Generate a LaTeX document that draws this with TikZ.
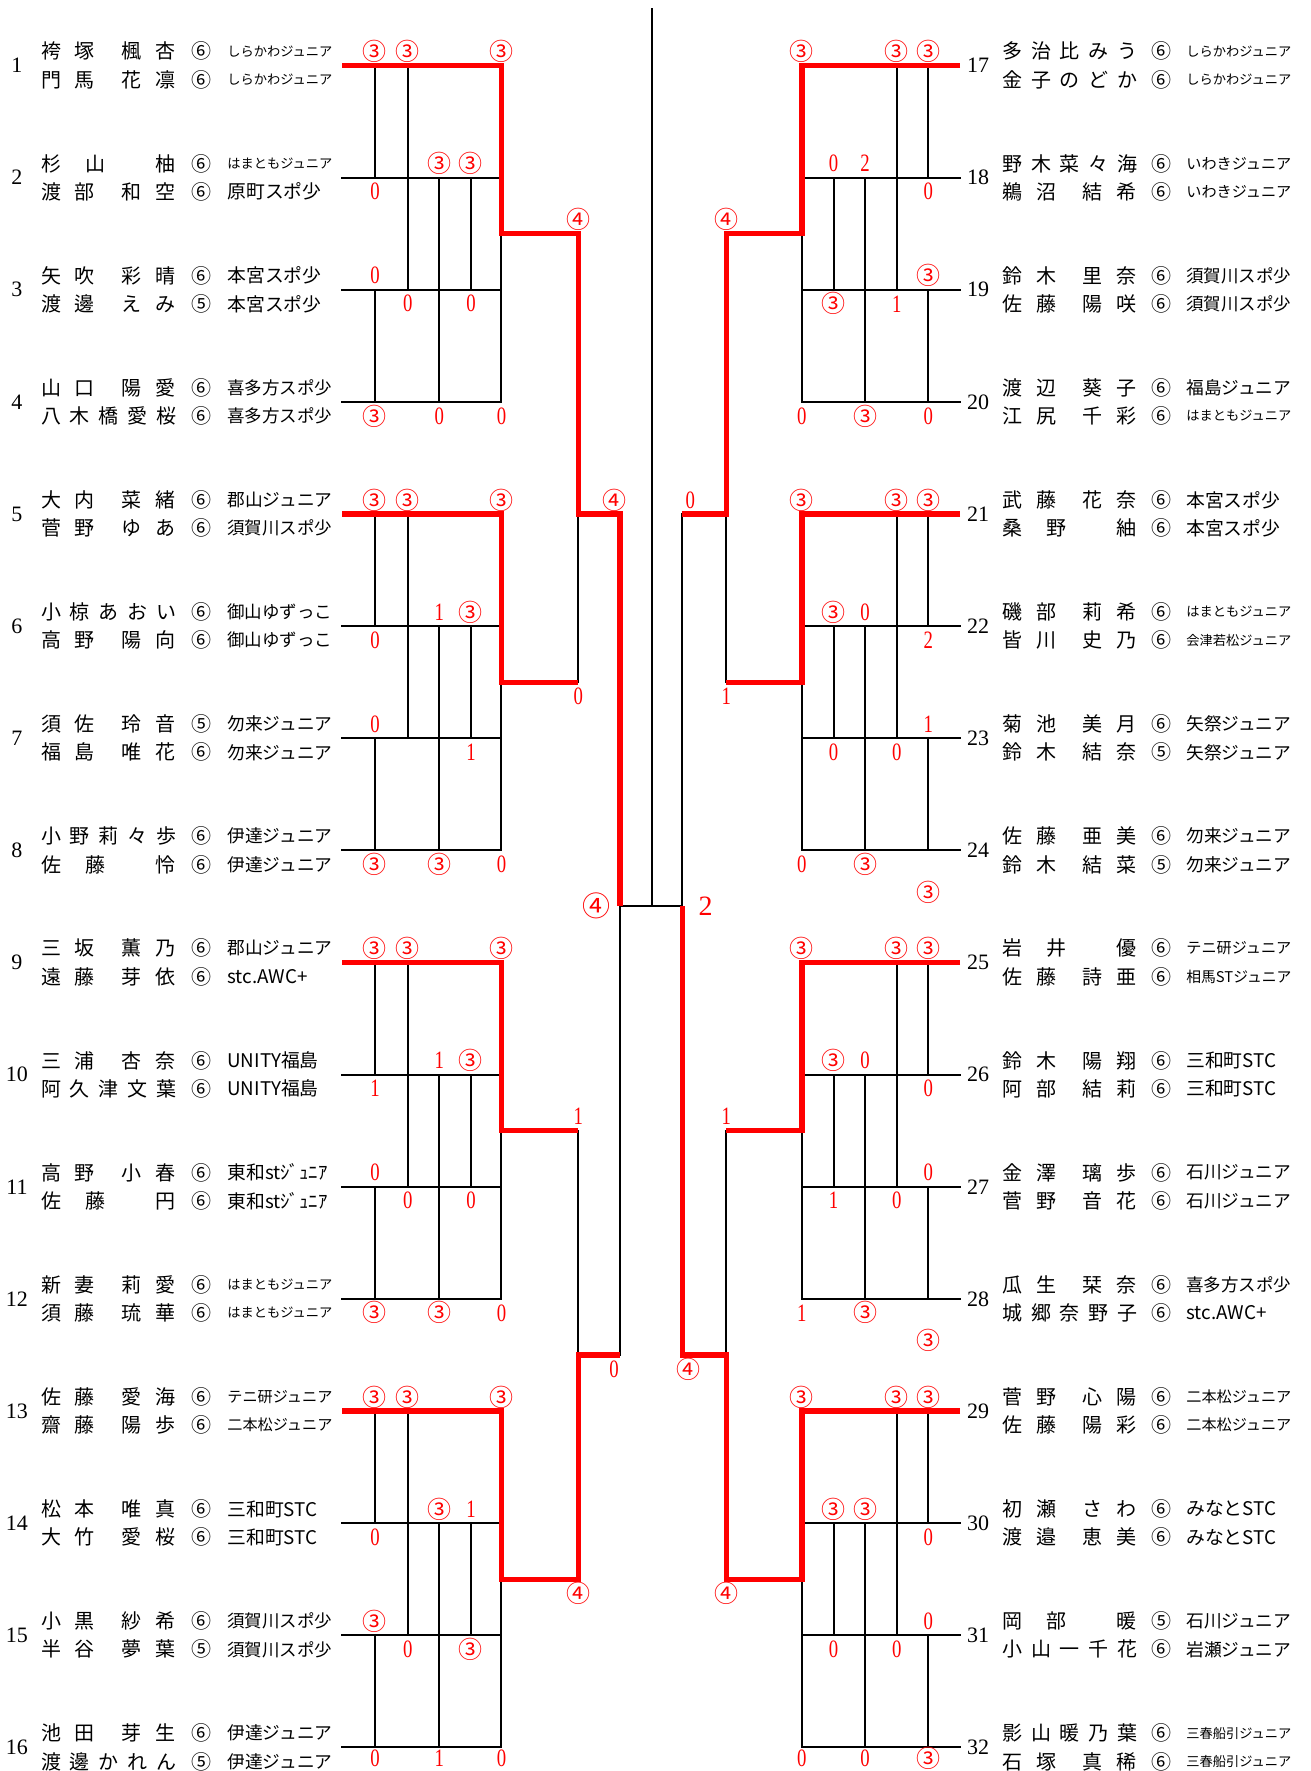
\documentclass[tikz,border=0pt]{standalone}
\usepackage{fontspec}
\setmainfont{Liberation Serif}
\newfontfamily\jp{Noto Sans CJK JP}
\newfontfamily\scf{Liberation Serif}[FakeStretch=0.75]
\usepackage{graphicx}
\usetikzlibrary{calc}

\newlength\shu
\setlength\shu{0.5647pt}
\newcommand\chr[2]{\rlap{\hspace*{#1\shu}\makebox[0pt]{#2}}}
\newcommand\nmE[5]{\chr{0}{#1}\chr{25.5}{#2}\chr{51}{#3}\chr{76.5}{#4}\chr{102}{#5}}
\newcommand\nmD[4]{\chr{0}{#1}\chr{30}{#2}\chr{71}{#3}\chr{101}{#4}}
\newcommand\nmC[3]{\chr{0}{#1}\chr{39}{#2}\chr{101}{#3}}
\newcommand\club[1]{\sbox0{\fontsize{9.4}{11}\selectfont#1}\ifdim\wd0>52.5pt\resizebox{52.5pt}{!}{\usebox0}\else\usebox0\fi}
\newcommand\wthree{{\jp\fontsize{12}{14}\selectfont ③}}
\newcommand\wfour{{\jp\fontsize{12}{14}\selectfont ④}}

\begin{document}
\begin{tikzpicture}[x=0.5647pt,y=-0.5647pt,
  bline/.style={line width=1pt, line cap=rect},
  rline/.style={line width=2.6pt, red},
  entno/.style={inner sep=0pt, font=\fontsize{11}{13}\selectfont},
  pname/.style={anchor=west, inner sep=0pt, font=\jp\fontsize{10}{12}\selectfont},
  grade/.style={inner sep=0pt, font=\jp\fontsize{10}{12}\selectfont},
  clubtxt/.style={anchor=west, inner sep=0pt, font=\jp},
  score/.style={inner sep=0pt, text=red, font=\scf\fontsize{12.5}{14}\selectfont},
  final/.style={inner sep=0pt, text=red, font=\fontsize{14}{16}\selectfont}]
\useasboundingbox (0,0) rectangle (1160,1568);

% columns of the league blocks and the bracket
\coordinate (lc1) at (332,0);
\coordinate (lc2) at (361,0);
\coordinate (lc3) at (389,0);
\coordinate (lc4) at (417,0);
\coordinate (lc5) at (444,0);
\coordinate (lq) at (512,0);
\coordinate (ls) at (549,0);
\coordinate (rs) at (604,0);
\coordinate (rq) at (643,0);
\coordinate (rc5) at (710,0);
\coordinate (rc4) at (738,0);
\coordinate (rc3) at (766,0);
\coordinate (rc2) at (794,0);
\coordinate (rc1) at (822,0);
\coordinate (top) at (577,8);
\coordinate (fin) at (577,802);

% left entries
\foreach \n/\na/\ga/\ca/\nb/\gb/\cb in {
 1/\nmD{袴}{塚}{楓}{杏}/⑥/しらかわジュニア/\nmD{門}{馬}{花}{凛}/⑥/しらかわジュニア,
 2/\nmC{杉}{山}{柚}/⑥/はまともジュニア/\nmD{渡}{部}{和}{空}/⑥/原町スポ少,
 3/\nmD{矢}{吹}{彩}{晴}/⑥/本宮スポ少/\nmD{渡}{邊}{え}{み}/⑤/本宮スポ少,
 4/\nmD{山}{口}{陽}{愛}/⑥/喜多方スポ少/\nmE{八}{木}{橋}{愛}{桜}/⑥/喜多方スポ少,
 5/\nmD{大}{内}{菜}{緒}/⑥/郡山ジュニア/\nmD{菅}{野}{ゆ}{あ}/⑥/須賀川スポ少,
 6/\nmE{小}{椋}{あ}{お}{い}/⑥/御山ゆずっこ/\nmD{高}{野}{陽}{向}/⑥/御山ゆずっこ,
 7/\nmD{須}{佐}{玲}{音}/⑤/勿来ジュニア/\nmD{福}{島}{唯}{花}/⑥/勿来ジュニア,
 8/\nmE{小}{野}{莉}{々}{歩}/⑥/伊達ジュニア/\nmC{佐}{藤}{怜}/⑥/伊達ジュニア,
 9/\nmD{三}{坂}{薫}{乃}/⑥/郡山ジュニア/\nmD{遠}{藤}{芽}{依}/⑥/stc.AWC+,
 10/\nmD{三}{浦}{杏}{奈}/⑥/UNITY福島/\nmE{阿}{久}{津}{文}{葉}/⑥/UNITY福島,
 11/\nmD{高}{野}{小}{春}/⑥/東和stｼﾞｭﾆｱ/\nmC{佐}{藤}{円}/⑥/東和stｼﾞｭﾆｱ,
 12/\nmD{新}{妻}{莉}{愛}/⑥/はまともジュニア/\nmD{須}{藤}{琉}{華}/⑥/はまともジュニア,
 13/\nmD{佐}{藤}{愛}{海}/⑥/テニ研ジュニア/\nmD{齋}{藤}{陽}{歩}/⑥/二本松ジュニア,
 14/\nmD{松}{本}{唯}{真}/⑥/三和町STC/\nmD{大}{竹}{愛}{桜}/⑥/三和町STC,
 15/\nmD{小}{黒}{紗}{希}/⑥/須賀川スポ少/\nmD{半}{谷}{夢}{葉}/⑤/須賀川スポ少,
 16/\nmD{池}{田}{芽}{生}/⑥/伊達ジュニア/\nmE{渡}{邊}{か}{れ}{ん}/⑤/伊達ジュニア}{
 \pgfmathsetmacro\yy{58+(\n-1)*99.27}
 \coordinate (e\n) at (303,\yy);
 \node[entno] (no\n) at (15,\yy) {\n};
 \node[pname] (pa\n) at (44,\yy-12.5) {\na};
 \node[grade] (ga\n) at (178,\yy-12.5) {\ga};
 \node[clubtxt] (ca\n) at (201,\yy-12.5) {\club{\ca}};
 \node[pname] (pb\n) at (44,\yy+12.5) {\nb};
 \node[grade] (gb\n) at (178,\yy+12.5) {\gb};
 \node[clubtxt] (cb\n) at (201,\yy+12.5) {\club{\cb}};
}

% right entries
\foreach \n/\na/\ga/\ca/\nb/\gb/\cb in {
 17/\nmE{多}{治}{比}{み}{う}/⑥/しらかわジュニア/\nmE{金}{子}{の}{ど}{か}/⑥/しらかわジュニア,
 18/\nmE{野}{木}{菜}{々}{海}/⑥/いわきジュニア/\nmD{鵜}{沼}{結}{希}/⑥/いわきジュニア,
 19/\nmD{鈴}{木}{里}{奈}/⑥/須賀川スポ少/\nmD{佐}{藤}{陽}{咲}/⑥/須賀川スポ少,
 20/\nmD{渡}{辺}{葵}{子}/⑥/福島ジュニア/\nmD{江}{尻}{千}{彩}/⑥/はまともジュニア,
 21/\nmD{武}{藤}{花}{奈}/⑥/本宮スポ少/\nmC{桑}{野}{紬}/⑥/本宮スポ少,
 22/\nmD{磯}{部}{莉}{希}/⑥/はまともジュニア/\nmD{皆}{川}{史}{乃}/⑥/会津若松ジュニア,
 23/\nmD{菊}{池}{美}{月}/⑥/矢祭ジュニア/\nmD{鈴}{木}{結}{奈}/⑤/矢祭ジュニア,
 24/\nmD{佐}{藤}{亜}{美}/⑥/勿来ジュニア/\nmD{鈴}{木}{結}{菜}/⑤/勿来ジュニア,
 25/\nmC{岩}{井}{優}/⑥/テニ研ジュニア/\nmD{佐}{藤}{詩}{亜}/⑥/相馬STジュニア,
 26/\nmD{鈴}{木}{陽}{翔}/⑥/三和町STC/\nmD{阿}{部}{結}{莉}/⑥/三和町STC,
 27/\nmD{金}{澤}{璃}{歩}/⑥/石川ジュニア/\nmD{菅}{野}{音}{花}/⑥/石川ジュニア,
 28/\nmD{瓜}{生}{栞}{奈}/⑥/喜多方スポ少/\nmE{城}{郷}{奈}{野}{子}/⑥/stc.AWC+,
 29/\nmD{菅}{野}{心}{陽}/⑥/二本松ジュニア/\nmD{佐}{藤}{陽}{彩}/⑥/二本松ジュニア,
 30/\nmD{初}{瀬}{さ}{わ}/⑥/みなとSTC/\nmD{渡}{邉}{恵}{美}/⑥/みなとSTC,
 31/\nmC{岡}{部}{暖}/⑤/石川ジュニア/\nmE{小}{山}{一}{千}{花}/⑥/岩瀬ジュニア,
 32/\nmE{影}{山}{暖}{乃}{葉}/⑥/三春船引ジュニア/\nmD{石}{塚}{真}{稀}/⑥/三春船引ジュニア}{
 \pgfmathsetmacro\yy{58+(\n-17)*99.27}
 \coordinate (e\n) at (850,\yy);
 \node[entno] (no\n) at (866,\yy) {\n};
 \node[pname] (pa\n) at (895,\yy-12.5) {\na};
 \node[grade] (ga\n) at (1028.5,\yy-12.5) {\ga};
 \node[clubtxt] (ca\n) at (1050,\yy-12.5) {\club{\ca}};
 \node[pname] (pb\n) at (895,\yy+12.5) {\nb};
 \node[grade] (gb\n) at (1028.5,\yy+12.5) {\gb};
 \node[clubtxt] (cb\n) at (1050,\yy+12.5) {\club{\cb}};
}

% league blocks
\foreach \ea/\eb/\ec/\ed in {1/2/3/4,5/6/7/8,9/10/11/12,13/14/15/16}{
 \coordinate (gm\ea) at ($(e\ea)!.5!(e\ed)$);
 \draw[bline] (e\eb) -- (lc5 |- e\eb) (e\ec) -- (lc5 |- e\ec) (e\ed) -- (lc5 |- e\ed);
 \draw[bline] (lc1 |- e\ea) -- (lc1 |- e\eb) (lc1 |- e\ec) -- (lc1 |- e\ed)
  (lc2 |- e\ea) -- (lc2 |- e\ec) (lc3 |- e\eb) -- (lc3 |- e\ed)
  (lc4 |- e\eb) -- (lc4 |- e\ec) (lc5 |- e\ea) -- (lc5 |- e\ed);
}
\foreach \ea/\eb/\ec/\ed in {17/18/19/20,21/22/23/24,25/26/27/28,29/30/31/32}{
 \coordinate (gm\ea) at ($(e\ea)!.5!(e\ed)$);
 \draw[bline] (e\eb) -- (rc5 |- e\eb) (e\ec) -- (rc5 |- e\ec) (e\ed) -- (rc5 |- e\ed);
 \draw[bline] (rc1 |- e\ea) -- (rc1 |- e\eb) (rc1 |- e\ec) -- (rc1 |- e\ed)
  (rc2 |- e\ea) -- (rc2 |- e\ec) (rc3 |- e\eb) -- (rc3 |- e\ed)
  (rc4 |- e\eb) -- (rc4 |- e\ec) (rc5 |- e\ea) -- (rc5 |- e\ed);
}
\coordinate (smb) at ($(gm9)!.5!(gm13)$);
\coordinate (smr) at ($(gm25)!.5!(gm29)$);

% bracket
\draw[bline] (lq |- gm1) -- (lq |- gm5);
\draw[bline] (lq |- gm9) -- (lq |- gm13);
\draw[bline] (ls |- e5) -- (ls |- smb);
\draw[bline] (rq |- gm17) -- (rq |- gm21);
\draw[bline] (rq |- gm25) -- (rq |- gm29);
\draw[bline] (rs |- e21) -- (rs |- smr);
\draw[bline] (ls |- fin) -- (rs |- fin);
\draw[bline] (top) -- (fin);

% winners
\draw[rline] (e1) -- (lc5 |- e1) -- (lc5 |- gm1) -- (lq |- gm1) -- (lq |- e5) -- (ls |- e5) -- (ls |- fin);
\draw[rline] (e5) -- (lc5 |- e5) -- (lc5 |- gm5) -- (lq |- gm5);
\draw[rline] (e9) -- (lc5 |- e9) -- (lc5 |- gm9) -- (lq |- gm9);
\draw[rline] (e13) -- (lc5 |- e13) -- (lc5 |- gm13) -- (lq |- gm13) -- (lq |- smb) -- (ls |- smb);
\draw[rline] (e17) -- (rc5 |- e17) -- (rc5 |- gm17) -- (rq |- gm17) -- (rq |- e21) -- (rs |- e21);
\draw[rline] (e21) -- (rc5 |- e21) -- (rc5 |- gm21) -- (rq |- gm21);
\draw[rline] (e25) -- (rc5 |- e25) -- (rc5 |- gm25) -- (rq |- gm25);
\draw[rline] (e29) -- (rc5 |- e29) -- (rc5 |- gm29) -- (rq |- gm29) -- (rq |- smr) -- (rs |- smr) -- (rs |- fin);

% league scores
\foreach \cc/\ee/\p/\tx [count=\i] in {
 lc1/1/7/\wthree, lc2/1/7/\wthree, lc5/1/7/\wthree, lc3/2/7/\wthree, lc4/2/7/\wthree, lc1/2/-7/0,
 lc1/3/7/0, lc2/3/-7/0, lc4/3/-7/0, lc1/4/-7/\wthree, lc3/4/-7/0, lc5/4/-7/0,
 lc1/5/7/\wthree, lc2/5/7/\wthree, lc5/5/7/\wthree, lc3/6/7/1, lc4/6/7/\wthree, lc1/6/-7/0,
 lc1/7/7/0, lc4/7/-7/1, lc1/8/-7/\wthree, lc3/8/-7/\wthree, lc5/8/-7/0,
 lc1/9/7/\wthree, lc2/9/7/\wthree, lc5/9/7/\wthree, lc3/10/7/1, lc4/10/7/\wthree, lc1/10/-7/1,
 lc1/11/7/0, lc2/11/-7/0, lc4/11/-7/0, lc1/12/-7/\wthree, lc3/12/-7/\wthree, lc5/12/-7/0,
 lc1/13/7/\wthree, lc2/13/7/\wthree, lc5/13/7/\wthree, lc3/14/7/\wthree, lc4/14/7/1, lc1/14/-7/0,
 lc1/15/7/\wthree, lc2/15/-7/0, lc4/15/-7/\wthree, lc1/16/-5.5/0, lc3/16/-5.5/1, lc5/16/-5.5/0,
 rc5/17/7/\wthree, rc2/17/7/\wthree, rc1/17/7/\wthree, rc4/18/7/0, rc3/18/7/2, rc1/18/-7/0,
 rc1/19/7/\wthree, rc4/19/-7/\wthree, rc2/19/-7/1, rc5/20/-7/0, rc3/20/-7/\wthree, rc1/20/-7/0,
 rc5/21/7/\wthree, rc2/21/7/\wthree, rc1/21/7/\wthree, rc4/22/7/\wthree, rc3/22/7/0, rc1/22/-7/2,
 rc1/23/7/1, rc4/23/-7/0, rc2/23/-7/0, rc5/24/-7/0, rc3/24/-7/\wthree, rc1/24/-21/\wthree,
 rc5/25/7/\wthree, rc2/25/7/\wthree, rc1/25/7/\wthree, rc4/26/7/\wthree, rc3/26/7/0, rc1/26/-7/0,
 rc1/27/7/0, rc4/27/-7/1, rc2/27/-7/0, rc5/28/-7/1, rc3/28/-7/\wthree, rc1/28/-21/\wthree,
 rc5/29/7/\wthree, rc2/29/7/\wthree, rc1/29/7/\wthree, rc4/30/7/\wthree, rc3/30/7/\wthree, rc1/30/-7/0,
 rc1/31/7/0, rc4/31/-7/0, rc2/31/-7/0, rc5/32/-5.5/0, rc3/32/-5.5/0, rc1/32/-5.5/\wthree}
 \node[score, yshift=\p pt] (sc\i) at (\cc |- e\ee) {\tx};

% bracket scores
\node[score, yshift=7pt] (ql1) at (lq |- gm1) {\wfour};
\node[score, yshift=-7pt] (ql2) at (lq |- gm5) {0};
\node[score, yshift=7pt] (ql3) at (lq |- gm9) {1};
\node[score, yshift=-7pt] (ql4) at (lq |- gm13) {\wfour};
\node[score, yshift=7pt, xshift=-3pt] (sl1) at (ls |- e5) {\wfour};
\node[score, yshift=-7pt, xshift=-3pt] (sl2) at (ls |- smb) {0};
\node[score, yshift=7pt] (qr1) at (rq |- gm17) {\wfour};
\node[score, yshift=-7pt] (qr2) at (rq |- gm21) {1};
\node[score, yshift=7pt] (qr3) at (rq |- gm25) {1};
\node[score, yshift=-7pt] (qr4) at (rq |- gm29) {\wfour};
\node[score, yshift=7pt, xshift=4pt] (sr1) at (rs |- e21) {0};
\node[score, yshift=-7pt, xshift=3pt] (sr2) at (rs |- smr) {\wfour};
\node[final, anchor=east, xshift=-4.5pt] (fl) at (ls |- fin) {\jp ④};
\node[final, anchor=west, xshift=8pt] (fr) at (rs |- fin) {2};
\end{tikzpicture}
\end{document}
